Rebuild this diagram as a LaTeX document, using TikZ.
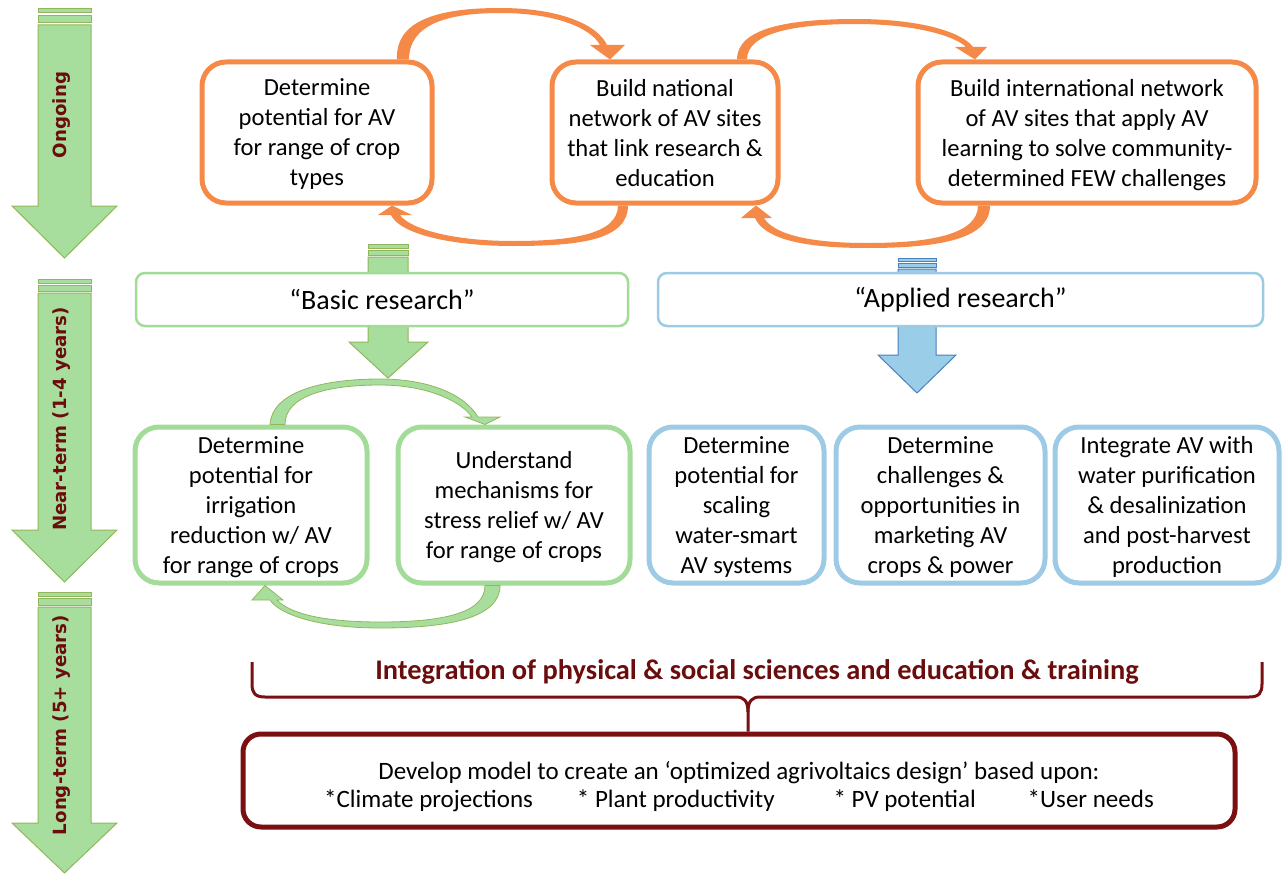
\documentclass[tikz,border=0pt]{standalone}
\usepackage{fontspec}
\setmainfont{Carlito}
\newfontfamily\lanefont{DejaVu Sans}
\usetikzlibrary{calc}

\definecolor{avorange}{RGB}{245,138,72}
\definecolor{avgreenfill}{RGB}{167,222,158}
\definecolor{avgreenline}{RGB}{147,182,90}
\definecolor{avgreenbox}{RGB}{163,219,152}
\definecolor{avblue}{RGB}{157,203,230}
\definecolor{avbluefill}{RGB}{154,205,232}
\definecolor{avblueline}{RGB}{76,127,189}
\definecolor{avred}{RGB}{107,13,13}
\definecolor{avdark}{RGB}{122,16,18}

\begin{document}
\begin{tikzpicture}[x=1pt, y=-1pt,
    obox/.style={rectangle, draw=avorange, line width=5pt, rounded corners=24pt, fill=white, align=center, inner sep=0pt, text depth=0pt, minimum height=141pt, font=\fontsize{24.6}{30}\selectfont},
    gbox/.style={obox, draw=avgreenbox, minimum height=156pt},
    bbox/.style={obox, draw=avblue, minimum height=156pt},
    head/.style={rectangle, rounded corners=9pt, line width=2.5pt, fill=white, minimum height=53pt, inner sep=0pt, font=\fontsize{28}{34}\selectfont},
    lane/.style={fill=avgreenfill, draw=avgreenline, line width=1pt},
    lanetext/.style={rotate=90, text=avred, font=\lanefont\bfseries\fontsize{18.2}{20}\selectfont},
    oarc/.style={fill=avorange},
    garc/.style={fill=avgreenfill, draw=avgreenline, line width=0.8pt},
    brace/.style={draw=avdark, line width=3pt}
]
    \useasboundingbox (0,0) rectangle (1283,875);

    % Zeitachse links
    \draw[lane] (38,9) rectangle (91,13);
    \draw[lane] (38,16) rectangle (91,23);
    \draw[lane] (38,25) -- (91,25) -- (91,206) -- (117,206) -- (64.5,258) -- (12,206) -- (38,206) -- cycle;
    \node[lanetext] (ongoing) at (62,115) {Ongoing};

    \draw[lane] (38,279) rectangle (91,283);
    \draw[lane] (38,285) rectangle (91,291);
    \draw[lane] (38,293) -- (91,293) -- (91,530) -- (117,530) -- (64.5,582) -- (12,530) -- (38,530) -- cycle;
    \node[lanetext] (nearterm) at (62,419) {Near-term (1-4 years)};

    \draw[lane] (38,592) rectangle (91,596);
    \draw[lane] (38,598) rectangle (91,605);
    \draw[lane] (38,607) -- (91,607) -- (91,823) -- (117,823) -- (64.5,873) -- (12,823) -- (38,823) -- cycle;
    \node[lanetext] (longterm) at (62,725) {Long-term (5+ years)};

    % Blockpfeile unter den Forschungsfeldern
    \draw[lane] (368,244) rectangle (408,248);
    \draw[lane] (368,250) rectangle (408,255);
    \draw[lane] (368,257) -- (408,257) -- (408,342) -- (428,342) -- (388,378) -- (349,342) -- (368,342) -- cycle;
    \draw[fill=avbluefill, draw=avblueline, line width=1pt] (898,258) rectangle (936,261);
    \draw[fill=avbluefill, draw=avblueline, line width=1pt] (898,263) rectangle (936,267);
    \draw[fill=avbluefill, draw=avblueline, line width=1pt] (898,269) -- (936,269) -- (936,355) -- (956,355) -- (917,393) -- (878,355) -- (898,355) -- cycle;

    % Laufende Aufgaben
    \node[obox, minimum width=230pt] (croptypes) at (317,132.5) {Determine\\potential for AV\\for range of crop\\types};
    \node[obox, minimum width=226pt] (national) at (665,132.5) {Build national\\network of AV sites\\that link research \&\\education};
    \node[obox, minimum width=338pt] (international) at (1087,132.5) {Build international network\\of AV sites that apply AV\\learning to solve community-\\determined FEW challenges};

    % Forschungsfelder
    \node[head, draw=avgreenbox, minimum width=492pt] (basic) at (382,299.5) {“Basic research”};
    \node[head, draw=avblue, minimum width=605pt] (applied) at (960.5,299.5) {“Applied research”};

    \node[gbox, minimum width=232pt] (irrig) at (251,505) {Determine\\potential for\\irrigation\\reduction w/ AV\\for range of crops};
    \node[gbox, minimum width=232pt] (stress) at (514,505) {Understand\\mechanisms for\\stress relief w/ AV\\for range of crops};
    \node[bbox, minimum width=175pt] (scaling) at (736.5,505) {Determine\\potential for\\scaling\\water-smart\\AV systems};
    \node[bbox, minimum width=209pt] (market) at (940.5,505) {Determine\\challenges \&\\opportunities in\\marketing AV\\crops \& power};
    \node[bbox, minimum width=224pt] (purify) at (1167,505) {Integrate AV with\\water purification\\\& desalinization\\and post-harvest\\production};

    % Kreislaeufe
    \fill[oarc] ([xshift=80pt]croptypes.north) .. controls +(-2,-40) and +(-60,0) .. (500,8) .. controls +(60,0) and +(-9,-20) .. (607,45) -- (625,45) -- ([xshift=-55pt]national.north) -- (590,45) -- (600,45) .. controls +(-8,-15) and +(60,0) .. (500,13) .. controls +(-55,0) and +(0,-34) .. ([xshift=92pt]croptypes.north) -- cycle;
    \fill[oarc] ([xshift=-37pt]national.south) .. controls +(0,35) and +(65,0) .. (513,246) .. controls +(-65,0) and +(8,18) .. (391,215) -- (378,215) -- ([xshift=75pt]croptypes.south) -- (412,215) -- (400,215) .. controls +(10,14) and +(-60,0) .. (513,241) .. controls +(58,0) and +(0,29) .. ([xshift=-47pt]national.south) -- cycle;
    \fill[oarc] ([xshift=72pt]national.north) .. controls +(0,-32) and +(-66,0) .. (856,19) .. controls +(64,0) and +(-11,-15) .. (973,47) -- (987,47) -- ([xshift=-112pt]international.north) -- (955,47) -- (966,47) .. controls +(-11,-11) and +(59,0) .. (856,24) .. controls +(-60,0) and +(0,-27) .. ([xshift=82pt]national.north) -- cycle;
    \fill[oarc] ([xshift=-97pt]international.south) .. controls +(0,35) and +(68,0) .. (867,248) .. controls +(-67,0) and +(9,20) .. (755,218) -- (741,218) -- ([xshift=91pt]national.south) -- (772,218) -- (764,218) .. controls +(9,15) and +(-62,0) .. (867,243) .. controls +(63,0) and +(0,29) .. ([xshift=-109pt]international.south) -- cycle;

    \filldraw[garc] ([xshift=19pt]irrig.north) .. controls +(2,-32) and +(-60,0) .. (380,379) .. controls +(50,0) and +(-13,-22) .. (478,417) -- (500,417) -- ([xshift=-29pt]stress.north) -- (465,417) -- (472,417) .. controls +(-12,-17) and +(45,0) .. (380,385) .. controls +(-52,0) and +(0,-29) .. ([xshift=34pt]irrig.north) -- cycle;
    \filldraw[garc] ([xshift=-14pt]stress.south) .. controls +(0,32) and +(70,0) .. (380,628) .. controls +(-60,0) and +(10,15) .. (270,600) -- (252,600) -- ([xshift=14pt]irrig.south) -- (283,600) -- (277,600) .. controls +(13,14) and +(-55,0) .. (380,622) .. controls +(65,0) and +(0,27) .. ([xshift=-29pt]stress.south) -- cycle;

    % Langfristig
    \node[text=avred, font=\bfseries\fontsize{28.4}{32}\selectfont] (integration) at (757,672) {Integration of physical \& social sciences and education \& training};
    \node[draw=avdark, line width=5pt, rounded corners=18pt, minimum width=992pt, minimum height=93pt] (model) at (739,780.5) {};
    \node[align=center, font=\fontsize{25}{28}\selectfont] (modeltext) at ([yshift=-6pt]model.center) {Develop model to create an ‘optimized agrivoltaics design’ based upon:\\*Climate projections\hspace{44pt}* Plant productivity\hspace{59pt}* PV potential\hspace{52pt}*User needs};

    \draw[brace] (252,662) -- (252,684) .. controls (252,693) and (255,697) .. (265,697) -- (736,697) .. controls (744,697) and (748,701) .. (748,712) -- ([xshift=9pt]model.north);
    \draw[brace] (1262,662) -- (1262,684) .. controls (1262,693) and (1259,697) .. (1249,697) -- (760,697) .. controls (752,697) and (748,701) .. (748,712);
\end{tikzpicture}
\end{document}
